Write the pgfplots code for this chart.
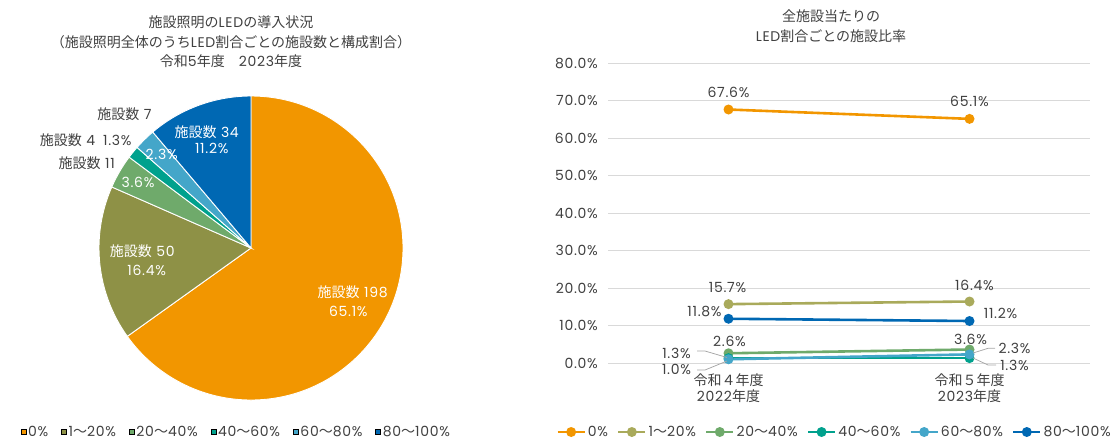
\documentclass[border=0pt]{standalone}
\usepackage{fontspec}
\setmainfont{Poppins}[LetterSpace=5]
\newfontfamily\jp{Noto Sans CJK JP}
\usepackage{pgfplots}
\usepackage{pgfplotstable}
\pgfplotsset{compat=1.18}
\pgfplotsset{/pgf/number format/assume math mode=true}

\definecolor{txt}{HTML}{404040}
\definecolor{c0}{HTML}{F29600}
\definecolor{c1p}{HTML}{8E9146}
\definecolor{c1}{HTML}{A9AA5B}
\definecolor{c2}{HTML}{6FAA6B}
\definecolor{c3}{HTML}{00A18D}
\definecolor{c4}{HTML}{44A6C9}
\definecolor{c5}{HTML}{0068B3}
\definecolor{gridc}{HTML}{D9D9D9}
\definecolor{lead}{HTML}{A6A6A6}

\newcommand{\fs}{\fontsize{14}{16}\selectfont}

% pie slice: start count, end count, colour (total 304 facilities)
\newcommand{\pieslice}[3]{%
  \fill[#3, draw=white, line width=0.9pt] (axis cs:0,0) -- ++({90-(#1)/304*360}:152pt)
    arc[start angle={90-(#1)/304*360}, end angle={90-(#2)/304*360}, radius=152pt] -- cycle;}

% line chart data: x, value (%), label offsets
\pgfplotstableread{
x y dx dy
0 67.6 0 17
1 65.1 0 17
}\dA
\pgfplotstableread{
x y dx dy
0 15.7 -1 17
1 16.4 5 16
}\dB
\pgfplotstableread{
x y dx dy
0 2.6 1 12
1 3.6 1 10
}\dC
\pgfplotstableread{
x y dx dy
0 1.3 -52 4.5
1 1.3 45 -7.5
}\dD
\pgfplotstableread{
x y dx dy
0 1.0 -52 -9.7
1 2.3 45 5.7
}\dE
\pgfplotstableread{
x y dx dy
0 11.8 -24 7
1 11.2 31 8
}\dF

\begin{document}
\begin{tikzpicture}
\useasboundingbox (0,0) rectangle (1115pt,-440pt);

% ---------- titles ----------
\begin{scope}[every node/.style={font=\fs, text=txt, inner sep=0pt}]
\node at (231pt,-22pt) {{\jp 施設照明の}LED{\jp の導入状況}};
\node at (231pt,-42pt) {{\jp （施設照明全体のうち}LED{\jp 割合ごとの施設数と構成割合）}};
\node at (231pt,-61pt) {{\jp 令和}5{\jp 年度　}2023{\jp 年度}};
\node at (831pt,-16pt) {{\jp 全施設当たりの}};
\node at (831pt,-36pt) {LED{\jp 割合ごとの施設比率}};
\end{scope}

% ---------- pie chart ----------
\begin{axis}[
  at={(99pt,-400pt)}, anchor=south west,
  scale only axis, width=304pt, height=304pt,
  xmin=-1, xmax=1, ymin=-1, ymax=1,
  hide axis, clip=false,
  legend columns=6,
  legend image code/.code={\fill[#1] (3pt,-2.5pt) rectangle (8pt,2.5pt);},
  legend style={draw=none, fill=none, font=\fs, text=txt,
    at={(axis description cs:0.452,-0.105)}, anchor=center,
    /tikz/every even column/.append style={column sep=11pt}},
]
\pieslice{0}{198}{c0}
\pieslice{198}{198+50}{c1p}
\pieslice{248}{248+11}{c2}
\pieslice{259}{259+4}{c3}
\pieslice{263}{263+7}{c4}
\pieslice{270}{270+34}{c5}
\addlegendimage{fill=c0}\addlegendentry{0\%}
\addlegendimage{fill=c1p}\addlegendentry{1{\jp ～}20\%}
\addlegendimage{fill=c2}\addlegendentry{20{\jp ～}40\%}
\addlegendimage{fill=c3}\addlegendentry{40{\jp ～}60\%}
\addlegendimage{fill=c4}\addlegendentry{60{\jp ～}80\%}
\addlegendimage{fill=c5}\addlegendentry{80{\jp ～}100\%}
\end{axis}

% pie labels
\begin{scope}[every node/.style={font=\fs, inner sep=0pt}]
\node[text=white] at (352.7pt,-291.7pt) {{\jp 施設数} 198};
\node[text=white] at (348.3pt,-311pt) {65.1\%};
\node[text=white] at (142.3pt,-251pt) {{\jp 施設数} 50};
\node[text=white] at (146.7pt,-270.7pt) {16.4\%};
\node[text=white] at (138pt,-182.7pt) {3.6\%};
\node[text=white] at (161.7pt,-154pt) {2.3\%};
\node[text=white] at (206.7pt,-132.3pt) {{\jp 施設数} 34};
\node[text=white] at (211.7pt,-148.3pt) {11.2\%};
\node[text=txt, anchor=east] at (151.7pt,-114pt) {{\jp 施設数} 7};
\node[text=txt, anchor=east] at (131.7pt,-140pt) {{\jp 施設数} 4\hspace{8pt}1.3\%};
\node[text=txt, anchor=east] at (115pt,-163.3pt) {{\jp 施設数} 11};
\end{scope}

% ---------- line chart ----------
\begin{axis}[
  at={(608pt,-363pt)}, anchor=south west,
  scale only axis, width=482pt, height=300pt,
  xmin=-0.5, xmax=1.5, ymin=0, ymax=80,
  xtick={0,1},
  xticklabels={{{\jp 令和４年度}\\2022{\jp 年度}},{{\jp 令和５年度}\\2023{\jp 年度}}},
  xticklabel style={align=center, font=\fs, text=txt, inner sep=0pt, anchor=north, yshift=-10pt},
  ytick={0,10,...,80},
  yticklabel={\pgfmathprintnumber[fixed,fixed zerofill,precision=1]{\tick}\%},
  yticklabel style={font=\fs, text=txt, inner sep=0pt, anchor=east, xshift=-10pt},
  ymajorgrids, grid style={draw=gridc, line width=0.9pt},
  axis line style={draw=none},
  tick style={draw=none},
  every axis plot/.append style={line width=2.6pt, mark=*, mark size=3.6pt, mark options={solid}},
  visualization depends on={\thisrow{dx} \as \dx},
  visualization depends on={\thisrow{dy} \as \dy},
  nodes near coords={\pgfmathprintnumber[fixed,fixed zerofill,precision=1]{\pgfplotspointmeta}\%},
  nodes near coords style={anchor=center, inner sep=0pt, xshift=\dx pt, yshift=\dy pt, text=txt, font=\fs},
  legend columns=6,
  legend image code/.code={\draw[mark repeat=2, mark phase=2, #1] plot coordinates {(0pt,0pt) (13.5pt,0pt) (27pt,0pt)};},
  legend style={draw=none, fill=none, font=\fs, text=txt,
    at={(axis description cs:0.47,-0.23)}, anchor=center,
    /tikz/every even column/.append style={column sep=7pt}},
]
\addplot[c0] table[x=x,y=y] \dA; \addlegendentry{0\%}
\addplot[c1] table[x=x,y=y] \dB; \addlegendentry{1{\jp ～}20\%}
\addplot[c2] table[x=x,y=y] \dC; \addlegendentry{20{\jp ～}40\%}
\addplot[c3] table[x=x,y=y] \dD; \addlegendentry{40{\jp ～}60\%}
\addplot[c4] table[x=x,y=y] \dE; \addlegendentry{60{\jp ～}80\%}
\addplot[c5] table[x=x,y=y] \dF; \addlegendentry{80{\jp ～}100\%}
\end{axis}

% leader lines
\begin{scope}[lead, line width=0.75pt]
\draw (697pt,-351pt) -- (705pt,-351pt) -- (727pt,-357.5pt);
\draw (697pt,-370pt) -- (705pt,-370pt) -- (727pt,-361pt);
\draw (973pt,-353pt) -- (988pt,-348.3pt) -- (995pt,-348.3pt);
\draw (973pt,-358pt) -- (988pt,-365pt) -- (996pt,-365pt);
\end{scope}
\end{tikzpicture}
\end{document}
